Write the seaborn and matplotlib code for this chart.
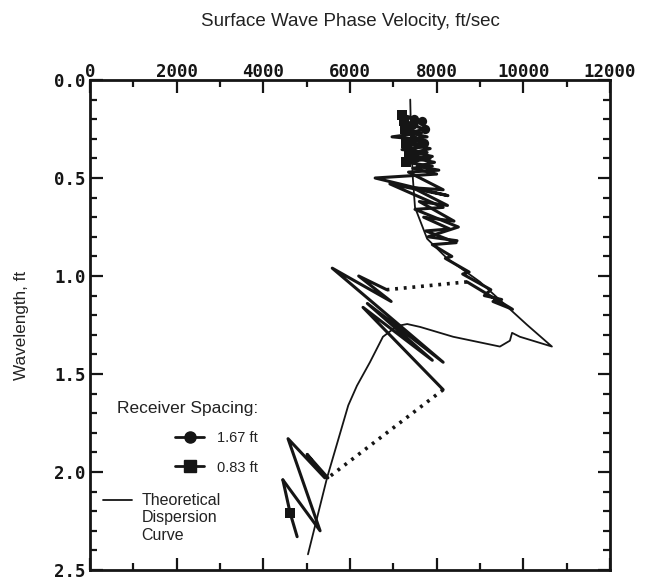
import matplotlib
matplotlib.use("Agg")
import matplotlib.pyplot as plt
import pandas as pd
import seaborn as sns
from matplotlib.lines import Line2D
from matplotlib.legend_handler import HandlerLine2D
from matplotlib.ticker import MultipleLocator

sns.set_theme(style="white")
plt.rcParams["font.family"] = ["Liberation Sans", "DejaVu Sans"]

# Theoretical dispersion curve (velocity ft/sec, wavelength ft)
theory_vel = [7390, 7400, 7420, 7450, 7500, 7780, 8240, 9000, 10090, 10660,
              9920, 9740, 9690, 9460, 8380, 7620, 7320, 7090, 6760, 6460,
              6160, 5960, 5470, 5030]
theory_wl = [0.10, 0.20, 0.35, 0.50, 0.65, 0.81, 0.91, 1.03, 1.25, 1.36,
             1.31, 1.29, 1.33, 1.36, 1.31, 1.26, 1.245, 1.255, 1.31, 1.44,
             1.56, 1.66, 2.03, 2.42]

# Measured curve, receiver spacing 1.67 ft (three continuous pieces)
r167_vel_a = [7480, 7650, 7420, 7720, 7380, 7780, 7450, 7700, 7400, 7850,
              7480, 7900, 7500, 7950, 7550, 8050, 7350, 8150, 7450, 8250,
              7600, 8400, 7700, 8300, 7750, 8450, 7900, 8350, 8200, 8750,
              8600, 9250, 9100, 9500, 9300, 9750, 8700]
r167_wl_a = [0.20, 0.21, 0.23, 0.25, 0.27, 0.29, 0.30, 0.32, 0.33, 0.35,
             0.37, 0.39, 0.40, 0.42, 0.44, 0.46, 0.47, 0.56, 0.55, 0.64,
             0.62, 0.72, 0.70, 0.76, 0.77, 0.83, 0.84, 0.90, 0.91, 0.98,
             0.99, 1.07, 1.10, 1.12, 1.13, 1.17, 1.03]
r167_vel_b = [6850, 6200, 6950, 5590, 8150, 6400, 7900, 6300, 8150]
r167_wl_b = [1.07, 1.00, 1.13, 0.96, 1.44, 1.14, 1.43, 1.16, 1.58]
r167_vel_c = [5490, 5010, 5420, 4570, 5310, 4450]
r167_wl_c = [2.03, 1.91, 2.03, 1.83, 2.30, 2.04]

# Measured curve, receiver spacing 0.83 ft
r083_vel_a = [7200, 7400, 7250, 7550, 7280, 7650, 6970, 7690, 7300, 7750,
              7200, 7780, 7350, 7850, 7300, 7900, 7450, 8000, 6580, 8260,
              6920, 8150, 7500, 8500, 7800, 8470]
r083_wl_a = [0.18, 0.19, 0.21, 0.23, 0.25, 0.27, 0.29, 0.305, 0.32, 0.34,
             0.355, 0.37, 0.39, 0.40, 0.42, 0.44, 0.45, 0.48, 0.50, 0.59,
             0.53, 0.65, 0.66, 0.75, 0.80, 0.82]
r083_vel_b = [4450, 4620, 4780]
r083_wl_b = [2.04, 2.21, 2.33]

# Gaps bridged with dotted lines
gap_vel = [[8700, 6850], [8150, 5490]]
gap_wl = [[1.03, 1.07], [1.58, 2.03]]

# Plotted symbols
circle_vel = [7480, 7650, 7420, 7720, 7450, 7700, 7480, 7500]
circle_wl = [0.20, 0.21, 0.23, 0.25, 0.30, 0.32, 0.37, 0.40]
square_vel = [7200, 7250, 7280, 7300, 7350, 7300, 4620]
square_wl = [0.18, 0.21, 0.25, 0.32, 0.39, 0.42, 2.21]

x_ticks = [0, 2000, 4000, 6000, 8000, 10000, 12000]
y_ticks = [0.0, 0.5, 1.0, 1.5, 2.0, 2.5]
y_tick_labels = ["0.0", "0.5", "1.0", "1.5", "2.0", "2.5"]


def segments(pieces):
    rows = []
    for i, (v, w) in enumerate(pieces):
        for a, b in zip(v, w):
            rows.append({"vel": a, "wl": b, "seg": i})
    return pd.DataFrame(rows)


class FirstLineHandler(HandlerLine2D):
    """Legend line placed beside the first line of a multi-line label."""

    def __init__(self, dy, **kw):
        super().__init__(**kw)
        self._dy = dy

    def create_artists(self, legend, orig_handle, xdescent, ydescent,
                       width, height, fontsize, trans):
        arts = super().create_artists(legend, orig_handle, xdescent,
                                      ydescent, width, height, fontsize,
                                      trans)
        for a in arts:
            a.set_ydata([y + self._dy for y in a.get_ydata()])
        return arts


ink = "#151515"
txt = "#222222"
fig = plt.figure(figsize=(6.52, 5.8), dpi=100)
ax = fig.add_axes([90 / 652, 10 / 580, 520 / 652, 490 / 580])

measured = segments([(r167_vel_a, r167_wl_a), (r167_vel_b, r167_wl_b),
                     (r167_vel_c, r167_wl_c), (r083_vel_a, r083_wl_a),
                     (r083_vel_b, r083_wl_b)])
sns.lineplot(data=measured, x="vel", y="wl", units="seg", estimator=None,
             sort=False, color=ink, lw=2.2, ax=ax, legend=False)

gaps = segments(list(zip(gap_vel, gap_wl)))
sns.lineplot(data=gaps, x="vel", y="wl", units="seg", estimator=None,
             sort=False, color=ink, lw=2.6, ls=(0, (0.8, 1.6)), ax=ax,
             legend=False)

sns.lineplot(x=theory_vel, y=theory_wl, sort=False, estimator=None,
             color=ink, lw=1.3, ax=ax)

sns.scatterplot(x=circle_vel, y=circle_wl, marker="o", s=45, color=ink,
                linewidth=0, ax=ax)
sns.scatterplot(x=square_vel, y=square_wl, marker="s", s=60, color=ink,
                linewidth=0, ax=ax)

ax.set_xlim(0, 12000)
ax.set_ylim(2.5, 0)
ax.set_xticks(x_ticks)
ax.set_xticklabels([str(t) for t in x_ticks])
ax.set_yticks(y_ticks)
ax.set_yticklabels(y_tick_labels)
ax.xaxis.set_minor_locator(MultipleLocator(1000))
ax.yaxis.set_minor_locator(MultipleLocator(0.1))
ax.xaxis.tick_top()
ax.tick_params(which="both", direction="in", top=True, bottom=True,
               left=True, right=True, labeltop=True, labelbottom=False,
               color=ink, width=1.6)
ax.tick_params(which="major", length=9)
ax.tick_params(which="minor", length=5)
ax.tick_params(axis="x", which="major", pad=-1)
ax.tick_params(axis="y", which="major", pad=3)
for lab in ax.get_xticklabels() + ax.get_yticklabels():
    lab.set_fontfamily("DejaVu Sans Mono")
    lab.set_fontweight("bold")
    lab.set_fontsize(12.5)
    lab.set_color(ink)
for sp in ax.spines.values():
    sp.set_linewidth(2.0)
    sp.set_color(ink)

ax.xaxis.set_label_position("top")
ax.set_xlabel("Surface Wave Phase Velocity, ft/sec", fontsize=13.5,
              labelpad=27, color=txt)
ax.set_ylabel("Wavelength, ft", fontsize=12.3, labelpad=18, color=txt)

h167 = Line2D([], [], color=ink, lw=2.0, marker="o", markersize=8)
h083 = Line2D([], [], color=ink, lw=2.0, marker="s", markersize=8)
leg1 = ax.legend([h167, h083], ["1.67 ft", "0.83 ft"],
                 title="Receiver Spacing:", alignment="right",
                 loc="upper left", bbox_to_anchor=(0.052, 0.345),
                 frameon=False, fontsize=10.5, title_fontsize=12.5,
                 handlelength=2.0, handletextpad=0.9, borderpad=0,
                 borderaxespad=0, labelspacing=1.05)
for t in leg1.get_texts():
    t.set_color(txt)
leg1.get_title().set_color(txt)
ax.add_artist(leg1)

hth = Line2D([], [], color=ink, lw=1.3)
leg2 = ax.legend([hth], ["Theoretical\nDispersion\nCurve"],
                 handler_map={hth: FirstLineHandler(dy=13.5)},
                 loc="upper left", bbox_to_anchor=(0.025, 0.157),
                 frameon=False, fontsize=11.5, handlelength=1.8,
                 handletextpad=0.6, borderpad=0, borderaxespad=0)
for t in leg2.get_texts():
    t.set_color(txt)
    t.set_linespacing(1.2)

fig.savefig("out.png", dpi=100, facecolor="white")
